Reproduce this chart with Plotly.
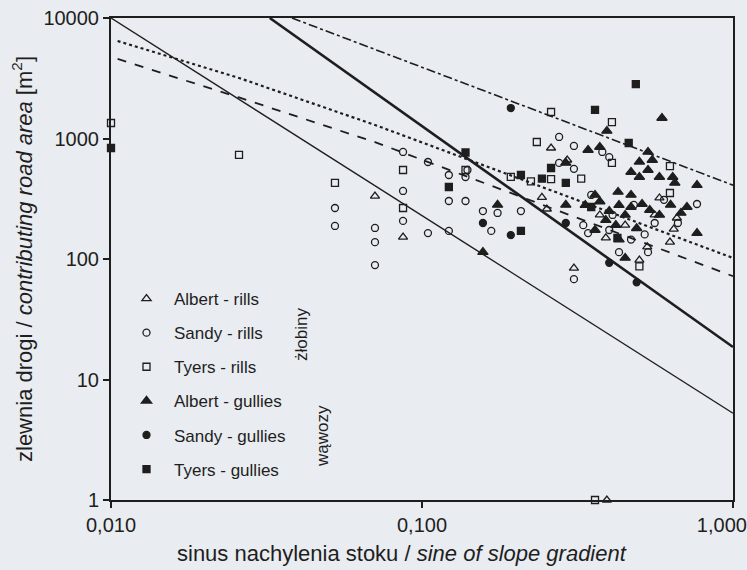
import plotly.graph_objects as go

# ---------------- data ----------------
albert_rills_x = [0.0706, 0.0869, 0.260, 0.293, 0.243, 0.252, 0.308, 0.58, 0.645, 0.627,
                  0.53, 0.50, 0.39, 0.373, 0.45, 0.56, 0.66, 0.393]
albert_rills_y = [333, 152, 834, 663, 325, 260, 84, 321, 177, 138,
                  126, 98, 150, 232, 191, 232, 219, 1]

sandy_rills_x = [0.0525, 0.0525, 0.0706, 0.0706, 0.0706, 0.0869, 0.0869, 0.0869, 0.1045, 0.1045,
                 0.122, 0.122, 0.122, 0.138, 0.138, 0.157, 0.175, 0.208, 0.167, 0.276,
                 0.308, 0.276, 0.308, 0.38, 0.40, 0.308, 0.33, 0.342, 0.766, 0.56,
                 0.665, 0.533, 0.43, 0.41, 0.48, 0.35, 0.52, 0.40, 0.47, 0.60, 0.14]
sandy_rills_y = [265, 188, 181, 138, 89, 367, 207, 773, 638, 164,
                 498, 303, 171, 479, 303, 250, 241, 250, 171, 1030,
                 867, 627, 560, 773, 700, 68, 191, 164, 286, 199,
                 199, 114, 114, 232, 281, 340, 160, 174, 145, 310, 548]

tyers_rills_x = [0.01, 0.0258, 0.0525, 0.0869, 0.138, 0.26, 0.408, 0.234, 0.193, 0.224,
                 0.26, 0.325, 0.408, 0.627, 0.627, 0.50, 0.36, 0.0869]
tyers_rills_y = [1345, 730, 428, 548, 548, 1660, 1370, 935, 480, 440,
                 460, 465, 627, 590, 353, 87, 1, 265]

albert_gullies_x = [0.157, 0.175, 0.393, 0.591, 0.342, 0.373, 0.533, 0.55, 0.50, 0.47,
                    0.50, 0.533, 0.58, 0.64, 0.65, 0.766, 0.766, 0.427, 0.29, 0.36,
                    0.711, 0.68, 0.51, 0.47, 0.45, 0.29, 0.373, 0.40, 0.43, 0.45,
                    0.42, 0.39, 0.54, 0.58, 0.63, 0.335, 0.36, 0.47, 0.49, 0.43]
albert_gullies_y = [114, 281, 1155, 1480, 803, 850, 773, 663, 640, 527,
                    479, 548, 479, 479, 428, 411, 164, 360, 281, 174,
                    270, 241, 286, 270, 102, 627, 300, 250, 280, 232,
                    191, 210, 255, 232, 281, 280, 340, 340, 180, 145]

sandy_gullies_x = [0.193, 0.157, 0.193, 0.29, 0.40, 0.49]
sandy_gullies_y = [1790, 199, 158, 199, 93, 64]

tyers_gullies_x = [0.01, 0.122, 0.138, 0.36, 0.487, 0.462, 0.208, 0.243, 0.29, 0.26,
                   0.208, 0.425, 0.35]
tyers_gullies_y = [834, 396, 765, 1725, 2830, 918, 498, 465, 428, 569,
                   171, 150, 270]

# threshold lines (knots)
thin_x, thin_y = [0.01, 1.0], [10000, 5.25]
thick_x, thick_y = [0.0324, 1.0], [10000, 18.6]
dashdot_x, dashdot_y = [0.0382, 1.0], [10000, 410]
dotted_x, dotted_y = [0.0105, 0.0258, 0.0706, 1.0], [6450, 3180, 1295, 102]
dashed_x, dashed_y = [0.0105, 0.0258, 0.0706, 1.0], [4570, 2190, 933, 72]

x_tickvals = [0.01, 0.1, 1.0]
x_ticktext = ["0,010", "0,100", "1,000"]
y_tickvals = [1, 10, 100, 1000, 10000]
y_ticktext = ["1", "10", "100", "1000", "10000"]

# ---------------- figure ----------------
INK = "#1e1e1e"
BG = "#e9ecf0"
FONT = "Liberation Sans, Arial, sans-serif"

W, H = 747, 570
L, R, T, B = 111, 14, 18, 70
pw, ph = W - L - R, H - T - B

fig = go.Figure()

for xs, ys, w, dash in [
    (thin_x, thin_y, 1.4, "solid"),
    (thick_x, thick_y, 2.6, "solid"),
    (dashdot_x, dashdot_y, 1.6, "dashdot"),
    (dotted_x, dotted_y, 2.2, "dot"),
    (dashed_x, dashed_y, 1.8, "dash"),
]:
    fig.add_trace(go.Scatter(x=xs, y=ys, mode="lines", showlegend=False,
                             line=dict(color=INK, width=w, dash=dash),
                             hoverinfo="skip"))

series = [
    ("Albert - rills", albert_rills_x, albert_rills_y, "triangle-up-open", 8),
    ("Sandy - rills", sandy_rills_x, sandy_rills_y, "circle-open", 7),
    ("Tyers - rills", tyers_rills_x, tyers_rills_y, "square-open", 7),
    ("Albert - gullies", albert_gullies_x, albert_gullies_y, "triangle-up", 9),
    ("Sandy - gullies", sandy_gullies_x, sandy_gullies_y, "circle", 7),
    ("Tyers - gullies", tyers_gullies_x, tyers_gullies_y, "square", 7),
]
for i, (name, xs, ys, sym, sz) in enumerate(series):
    fig.add_trace(go.Scatter(
        x=xs, y=ys, mode="markers", name=name, legendgroup=str(i),
        cliponaxis=False,
        marker=dict(symbol=sym, size=sz, color=INK,
                    line=dict(color=INK, width=1.3)),
    ))

axis_common = dict(
    type="log", showgrid=False, zeroline=False, automargin=False,
    showline=True, linecolor=INK, linewidth=2, mirror=True,
    ticks="outside", ticklen=6, tickwidth=1.5, tickcolor=INK,
    tickfont=dict(family=FONT, size=20, color=INK),
    ticklabeloverflow="allow",
)

# the last x label sits a little left of its tick in the reference (kept inside the frame)
x_ticktext_drawn = x_ticktext[:-1] + [x_ticktext[-1] + "\u00a0\u00a0\u00a0\u00a0"]

fig.update_xaxes(range=[-2, 0], tickvals=x_tickvals, ticktext=x_ticktext_drawn,
                 **axis_common)
fig.update_yaxes(range=[0, 4], tickvals=y_tickvals, ticktext=y_ticktext,
                 title=dict(text="zlewnia drogi / <i>contributing road area</i> [m<sup>2</sup>]",
                            font=dict(family=FONT, size=22, color=INK), standoff=5),
                 **axis_common)


def dom_x(px):
    return (px - L) / pw


def dom_y(py):
    return (H - B - py) / ph


# x-axis title (placed as in the reference, slightly left of the plot centre)
fig.add_annotation(x=dom_x(402), y=dom_y(553), xref="paper", yref="paper",
                   text="sinus nachylenia stoku / <i>sine of slope gradient</i>",
                   showarrow=False, xanchor="center", yanchor="middle",
                   font=dict(family=FONT, size=22, color=INK))

fig.add_annotation(x=dom_x(301), y=dom_y(335), xref="x domain", yref="y domain",
                   text="żłobiny", showarrow=False, textangle=-90,
                   xanchor="center", yanchor="middle",
                   font=dict(family=FONT, size=17, color=INK))
fig.add_annotation(x=dom_x(322), y=dom_y(436), xref="x domain", yref="y domain",
                   text="wąwozy", showarrow=False, textangle=-90,
                   xanchor="center", yanchor="middle",
                   font=dict(family=FONT, size=17, color=INK))

fig.update_layout(
    width=W, height=H,
    margin=dict(l=L, r=R, t=T, b=B, autoexpand=False),
    paper_bgcolor=BG, plot_bgcolor=BG,
    font=dict(family=FONT, color=INK),
    legend=dict(x=dom_x(119), y=dom_y(281), xanchor="left", yanchor="top",
                bgcolor="rgba(0,0,0,0)", tracegroupgap=9, itemwidth=45,
                font=dict(family=FONT, size=17, color=INK)),
)

# remove the default page margin so the figure sits at the window's top-left corner
fig.write_html("out.html",
               config={"displayModeBar": False},
               post_script="document.body.style.margin='0';"
                           "document.body.style.background='" + BG + "';"
                           "document.body.style.overflow='hidden';")
